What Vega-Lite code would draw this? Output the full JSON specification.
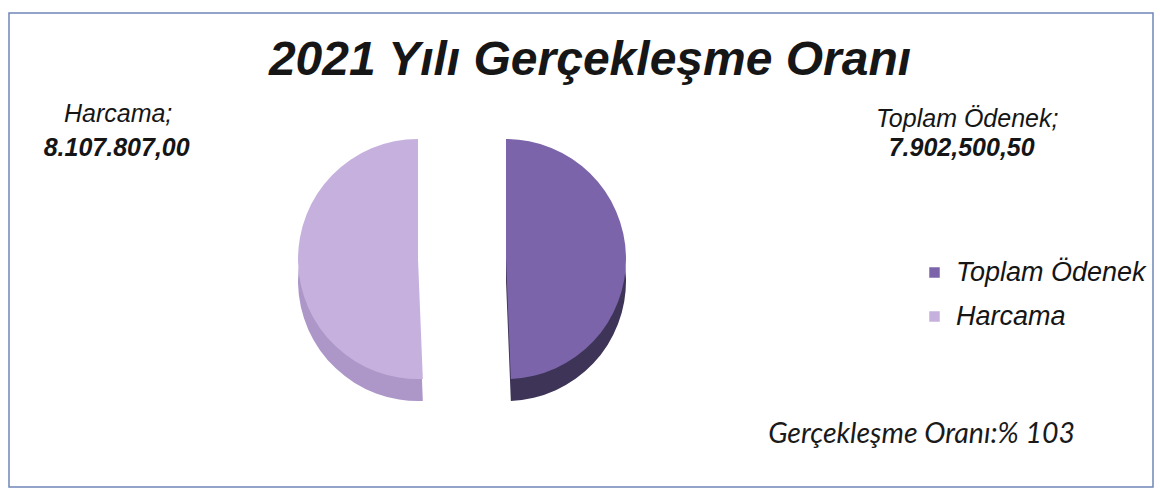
{
  "$schema": "https://vega.github.io/schema/vega-lite/v6.json",
  "padding": {"left": 8, "top": 12, "right": 8, "bottom": 3},
  "background": "white",
  "title": {
    "text": "2021 Yılı Gerçekleşme Oranı",
    "orient": "top",
    "anchor": "middle",
    "frame": "group",
    "baseline": "alphabetic",
    "offset": -111,
    "dx": 9,
    "font": "Liberation Sans",
    "fontSize": 48,
    "fontWeight": "bold",
    "fontStyle": "italic",
    "color": "#161616"
  },
  "datasets": {
    "butce": [
      {"kategori": "Toplam Ödenek", "deger": 7902500.5, "etiket": "7.902,500,50"},
      {"kategori": "Harcama", "deger": 8107807.0, "etiket": "8.107.807,00"}
    ]
  },
  "config": {
    "view": {"stroke": "#6f86b8", "strokeWidth": 1.5},
    "concat": {"spacing": 0}
  },
  "vconcat": [
    {
      "width": 1144,
      "height": 474,
      "view": {"stroke": "#6f86b8", "strokeWidth": 1.5, "fill": "white"},
      "title": {
        "text": "Gerçekleşme Oranı:% 103",
        "orient": "bottom",
        "anchor": "end",
        "frame": "group",
        "baseline": "alphabetic",
        "offset": -44,
        "dx": -78,
        "font": "Lato",
        "fontSize": 28.5,
        "fontStyle": "italic",
        "fontWeight": "normal",
        "color": "#1a1a1a"
      },
      "data": {"name": "butce"},
      "transform": [
        {"stack": "deger", "groupby": [], "sort": [{"field": "kategori", "order": "descending"}], "as": ["t0", "t1"]},
        {"calculate": "(datum.t0 + datum.t1) / 2", "as": "tmid"},
        {"calculate": "datum.kategori + ';'", "as": "baslik"}
      ],
      "layer": [
        {
          "transform": [{"filter": "datum.kategori === 'Harcama'"}],
          "mark": {"type": "arc", "radius": 120, "xOffset": -163, "yOffset": 31, "color": "#ad97c8"},
          "encoding": {
            "theta": {"field": "t0", "type": "quantitative", "scale": {"domain": [0, 16010307.5]}},
            "theta2": {"field": "t1"}
          }
        },
        {
          "transform": [{"filter": "datum.kategori === 'Toplam Ödenek'"}],
          "mark": {"type": "arc", "radius": 120, "xOffset": -75, "yOffset": 31, "color": "#3e3457"},
          "encoding": {
            "theta": {"field": "t0", "type": "quantitative", "scale": {"domain": [0, 16010307.5]}},
            "theta2": {"field": "t1"}
          }
        },
        {
          "transform": [{"filter": "datum.kategori === 'Harcama'"}],
          "mark": {"type": "arc", "radius": 120, "xOffset": -163, "yOffset": 9},
          "encoding": {
            "theta": {"field": "t0", "type": "quantitative", "scale": {"domain": [0, 16010307.5]}},
            "theta2": {"field": "t1"},
            "color": {
              "field": "kategori",
              "type": "nominal",
              "scale": {"domain": ["Toplam Ödenek", "Harcama"], "range": ["#7b64a9", "#c6b1de"]},
              "legend": {
                "title": null,
                "orient": "none",
                "legendX": 912,
                "legendY": 246,
                "padding": 0,
                "symbolType": "square",
                "symbolSize": 110,
                "symbolOpacity": 1,
                "symbolStrokeWidth": 0,
                "labelFont": "Liberation Sans",
                "labelFontSize": 27,
                "labelFontStyle": "italic",
                "labelColor": "#151515",
                "labelLimit": 400,
                "labelOffset": 8,
                "rowPadding": 16
              }
            }
          }
        },
        {
          "transform": [{"filter": "datum.kategori === 'Toplam Ödenek'"}],
          "mark": {"type": "arc", "radius": 120, "xOffset": -75, "yOffset": 9},
          "encoding": {
            "theta": {"field": "t0", "type": "quantitative", "scale": {"domain": [0, 16010307.5]}},
            "theta2": {"field": "t1"},
            "color": {"field": "kategori", "type": "nominal"}
          }
        },
        {
          "transform": [{"filter": "datum.kategori === 'Harcama'"}],
          "mark": {"type": "text", "radius": 333, "thetaOffset": 0.47, "xOffset": -163, "yOffset": 9, "font": "Liberation Sans", "fontSize": 25, "fontStyle": "italic", "align": "center", "baseline": "middle", "color": "#151515"},
          "encoding": {
            "theta": {"field": "tmid", "type": "quantitative", "scale": {"domain": [0, 16010307.5]}},
            "text": {"field": "baslik", "type": "nominal"}
          }
        },
        {
          "transform": [{"filter": "datum.kategori === 'Harcama'"}],
          "mark": {"type": "text", "radius": 321, "thetaOffset": 0.372, "xOffset": -163, "yOffset": 9, "font": "Liberation Sans", "fontSize": 25, "fontStyle": "italic", "fontWeight": "bold", "align": "center", "baseline": "middle", "color": "#151515"},
          "encoding": {
            "theta": {"field": "tmid", "type": "quantitative", "scale": {"domain": [0, 16010307.5]}},
            "text": {"field": "etiket", "type": "nominal"}
          }
        },
        {
          "transform": [{"filter": "datum.kategori === 'Toplam Ödenek'"}],
          "mark": {"type": "text", "radius": 482, "thetaOffset": -0.275, "xOffset": -75, "yOffset": 9, "font": "Liberation Sans", "fontSize": 25, "fontStyle": "italic", "align": "center", "baseline": "middle", "color": "#151515"},
          "encoding": {
            "theta": {"field": "tmid", "type": "quantitative", "scale": {"domain": [0, 16010307.5]}},
            "text": {"field": "baslik", "type": "nominal"}
          }
        },
        {
          "transform": [{"filter": "datum.kategori === 'Toplam Ödenek'"}],
          "mark": {"type": "text", "radius": 469, "thetaOffset": -0.219, "xOffset": -75, "yOffset": 9, "font": "Liberation Sans", "fontSize": 25, "fontStyle": "italic", "fontWeight": "bold", "align": "center", "baseline": "middle", "color": "#151515"},
          "encoding": {
            "theta": {"field": "tmid", "type": "quantitative", "scale": {"domain": [0, 16010307.5]}},
            "text": {"field": "etiket", "type": "nominal"}
          }
        }
      ]
    }
  ]
}
